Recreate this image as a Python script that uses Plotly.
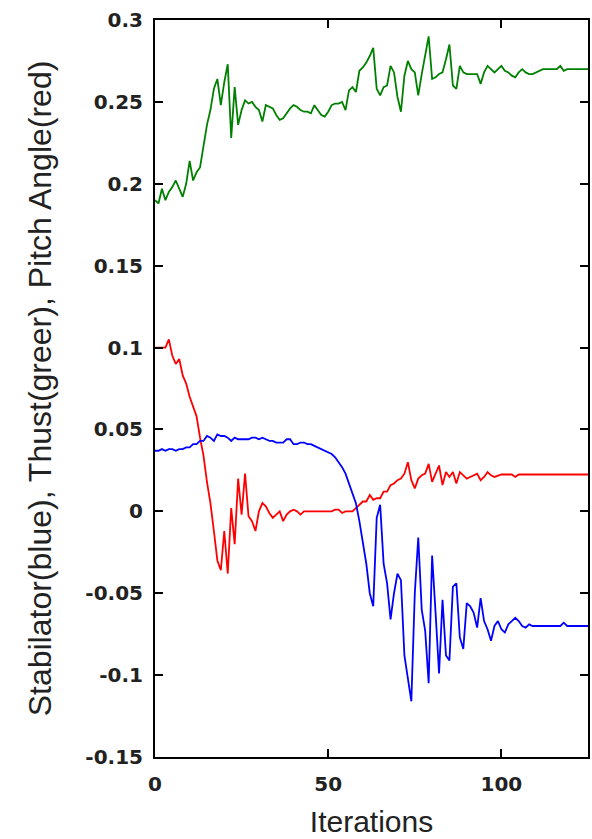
import plotly.graph_objects as go

# Iteration index for every logged step
iterations = list(range(126))

# Thrust (green) per iteration
thrust = [
    0.190, 0.188, 0.197, 0.190, 0.195, 0.198, 0.202, 0.197, 0.192, 0.200,
    0.214, 0.202, 0.207, 0.210, 0.222, 0.236, 0.245, 0.258, 0.264, 0.248,
    0.262, 0.273, 0.228, 0.259, 0.236, 0.245, 0.251, 0.249, 0.250, 0.247,
    0.245, 0.238, 0.248, 0.247, 0.246, 0.242, 0.239, 0.240, 0.243, 0.246,
    0.248, 0.247, 0.245, 0.244, 0.244, 0.243, 0.248, 0.245, 0.242, 0.241,
    0.244, 0.248, 0.249, 0.249, 0.250, 0.245, 0.257, 0.259, 0.256, 0.269,
    0.271, 0.274, 0.278, 0.283, 0.258, 0.254, 0.259, 0.260, 0.272, 0.268,
    0.253, 0.244, 0.266, 0.275, 0.270, 0.268, 0.254, 0.267, 0.278, 0.290,
    0.264, 0.265, 0.267, 0.268, 0.276, 0.285, 0.260, 0.258, 0.272, 0.268,
    0.267, 0.267, 0.267, 0.267, 0.261, 0.268, 0.272, 0.270, 0.268, 0.270,
    0.272, 0.269, 0.268, 0.266, 0.265, 0.268, 0.270, 0.268, 0.267, 0.267,
    0.268, 0.269, 0.270, 0.270, 0.270, 0.270, 0.270, 0.272, 0.269, 0.270,
    0.270, 0.270, 0.270, 0.270, 0.270, 0.270,
]

# Pitch angle (red) per iteration
pitch = [
    0.100, 0.100, 0.100, 0.100, 0.105, 0.095, 0.090, 0.093, 0.083, 0.078,
    0.070, 0.064, 0.058, 0.045, 0.034, 0.018, 0.005, -0.012, -0.030, -0.036,
    -0.012, -0.038, 0.002, -0.020, 0.020, -0.002, 0.023, -0.003, -0.006, -0.012,
    0.000, 0.005, 0.003, -0.001, -0.004, -0.002, 0.000, -0.006, -0.002, 0.000,
    0.001, 0.000, -0.002, 0.000, 0.000, 0.000, 0.000, 0.000, 0.000, 0.000,
    0.000, 0.000, 0.001, 0.001, -0.001, 0.000, 0.000, 0.000, 0.002, 0.004,
    0.006, 0.006, 0.010, 0.007, 0.008, 0.008, 0.012, 0.012, 0.016, 0.017,
    0.019, 0.020, 0.023, 0.030, 0.019, 0.014, 0.020, 0.022, 0.023, 0.029,
    0.018, 0.023, 0.028, 0.016, 0.024, 0.021, 0.024, 0.017, 0.024, 0.022,
    0.020, 0.021, 0.022, 0.023, 0.019, 0.021, 0.024, 0.022, 0.021, 0.022,
    0.0225, 0.0225, 0.0225, 0.0225, 0.021, 0.0225, 0.0225, 0.0225, 0.0225, 0.0225,
    0.0225, 0.0225, 0.0225, 0.0225, 0.0225, 0.0225, 0.0225, 0.0225, 0.0225, 0.0225,
    0.0225, 0.0225, 0.0225, 0.0225, 0.0225, 0.0225,
]

# Stabilator (blue) per iteration
stabilator = [
    0.037, 0.037, 0.038, 0.037, 0.038, 0.038, 0.037, 0.038, 0.038, 0.039,
    0.039, 0.041, 0.041, 0.043, 0.043, 0.046, 0.045, 0.043, 0.047, 0.046,
    0.046, 0.045, 0.043, 0.045, 0.044, 0.044, 0.044, 0.044, 0.045, 0.045,
    0.044, 0.045, 0.044, 0.043, 0.043, 0.042, 0.042, 0.042, 0.044, 0.044,
    0.041, 0.041, 0.042, 0.042, 0.041, 0.041, 0.040, 0.039, 0.038, 0.037,
    0.036, 0.035, 0.033, 0.030, 0.027, 0.023, 0.017, 0.010, 0.005, -0.006,
    -0.020, -0.032, -0.050, -0.058, -0.004, 0.004, -0.032, -0.044, -0.066, -0.050,
    -0.038, -0.042, -0.088, -0.103, -0.116, -0.050, -0.016, -0.060, -0.073, -0.105,
    -0.027, -0.062, -0.099, -0.054, -0.088, -0.091, -0.046, -0.044, -0.077, -0.084,
    -0.056, -0.058, -0.062, -0.071, -0.053, -0.067, -0.072, -0.079, -0.070, -0.067,
    -0.072, -0.074, -0.069, -0.067, -0.065, -0.067, -0.070, -0.071, -0.069, -0.070,
    -0.070, -0.070, -0.070, -0.070, -0.070, -0.070, -0.070, -0.070, -0.068, -0.070,
    -0.070, -0.070, -0.070, -0.070, -0.070, -0.070,
]

# Axis ticks
x_ticks = [0, 50, 100]
y_ticks = [0.3, 0.25, 0.2, 0.15, 0.1, 0.05, 0, -0.05, -0.1, -0.15]
y_tick_labels = ["0.3", "0.25", "0.2", "0.15", "0.1", "0.05", "0", "-0.05", "-0.1", "-0.15"]

fig = go.Figure()
for values, colour in ((thrust, "#008000"), (pitch, "#ff0000"), (stabilator, "#0000ff")):
    fig.add_trace(go.Scatter(
        x=iterations, y=values, mode="lines",
        line=dict(color=colour, width=1.8),
        showlegend=False, hoverinfo="skip",
    ))

tick_font = dict(family="DejaVu Sans", size=20, color="#222222", weight="bold")
title_font = dict(family="Liberation Sans Narrow, Liberation Sans, sans-serif", size=30, color="#222222")

fig.update_layout(
    width=592, height=839,
    margin=dict(l=155, r=2, t=20, b=82),
    paper_bgcolor="white", plot_bgcolor="white",
    xaxis=dict(
        range=[0, 125], tickvals=x_ticks, ticks="inside", ticklen=8, tickwidth=2,
        tickcolor="black", showline=True, linecolor="black", linewidth=2,
        mirror="allticks", showgrid=False, zeroline=False, tickfont=tick_font,
        ticklabelstandoff=8,
        title=dict(text="Iterations", font=title_font, standoff=16),
    ),
    yaxis=dict(
        range=[-0.15, 0.3], tickvals=y_ticks, ticktext=y_tick_labels,
        ticks="inside", ticklen=8, tickwidth=2, tickcolor="black",
        showline=True, linecolor="black", linewidth=2, mirror="allticks",
        showgrid=False, zeroline=False, tickfont=tick_font, ticklabelstandoff=6,
        title=dict(text="Stabilator(blue), Thust(greer), Pitch Angle(red)",
                   font=dict(title_font, size=32), standoff=24),
    ),
)

fig.write_html("out.html")
